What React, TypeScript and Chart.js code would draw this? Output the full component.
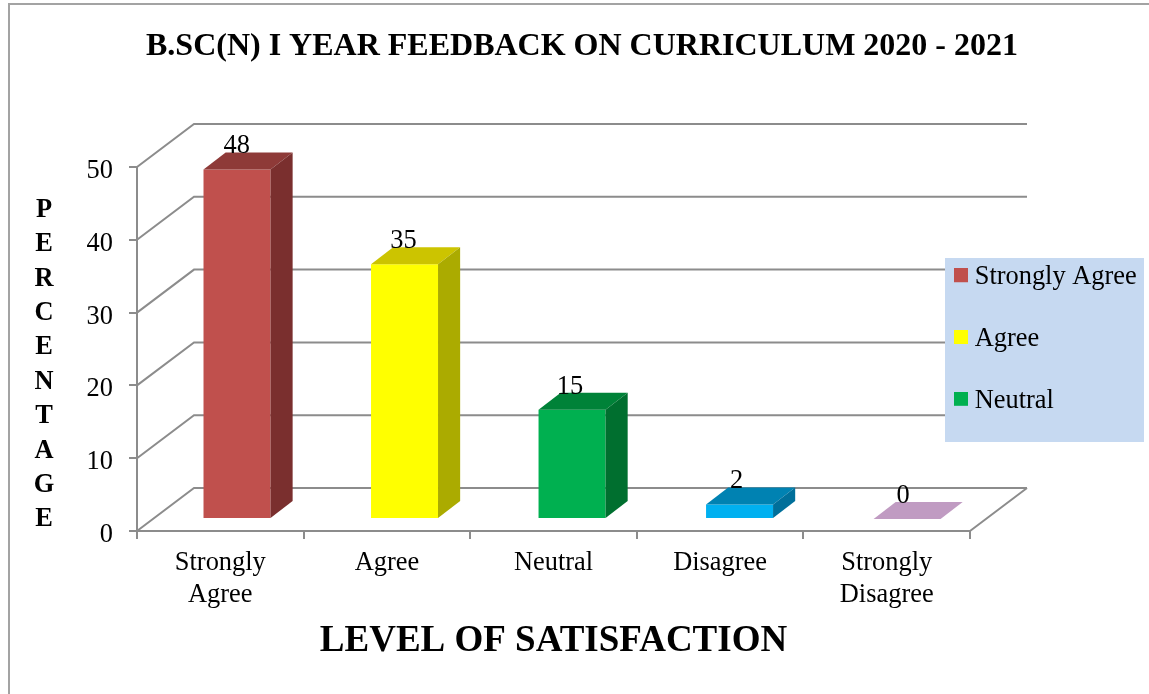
import React, { useEffect, useRef } from "react";
import { Chart, registerables } from "chart.js";

Chart.register(...registerables);

const categories = [["Strongly", "Agree"], ["Agree"], ["Neutral"], ["Disagree"], ["Strongly", "Disagree"]];
const percentages = [48, 35, 15, 2, 0];
const frontColors = ["#C0504D", "#FFFF00", "#00B050", "#00B0F0", "#C09BC2"];
const topColors = ["#8E3A38", "#CCC400", "#008238", "#0082B2", "#C09BC2"];
const sideColors = ["#7A2F2E", "#ABAB00", "#006F2F", "#006F9A", "#C09BC2"];
const legendNames = ["Strongly Agree", "Agree", "Neutral"];
const yTitleLetters = ["P", "E", "R", "C", "E", "N", "T", "A", "G", "E"];
const yTicks = [0, 10, 20, 30, 40, 50];

const SERIF = "'Liberation Serif', 'Times New Roman', serif";
const BODY = 26.4;
const GRID = "#8C8C8C";

function swatch(color: string) {
  const c = document.createElement("canvas");
  c.width = 14;
  c.height = 18;
  const g = c.getContext("2d")!;
  g.fillStyle = color;
  g.fillRect(0, 0, 14, 14);
  return c;
}

const scene = {
  id: "scene",
  afterLayout(chart: any) {
    const l = chart.legend;
    const pad = 35.4;
    l.left = 960.5 - pad;
    l.right = 1149;
    l.top = 264 - pad;
    l.bottom = 694;
  },
  beforeDraw(chart: any) {
    const { ctx, scales } = chart;
    const { x, y } = scales;
    ctx.save();
    ctx.strokeStyle = "#A3A3A3";
    ctx.lineWidth = 2;
    ctx.beginPath();
    ctx.moveTo(9, 694);
    ctx.lineTo(9, 4);
    ctx.lineTo(1149, 4);
    ctx.stroke();

    ctx.strokeStyle = GRID;
    ctx.lineWidth = 2;
    const dx = 57;
    const dy = -43;
    ctx.beginPath();
    yTicks.forEach((t) => {
      const py = y.getPixelForValue(t);
      ctx.moveTo(x.left, py);
      ctx.lineTo(x.left + dx, py + dy);
      ctx.lineTo(x.right + dx, py + dy);
    });
    const py0 = y.getPixelForValue(0);
    ctx.moveTo(x.right, py0);
    ctx.lineTo(x.right + dx, py0 + dy);
    ctx.stroke();

    ctx.fillStyle = "#C6D9F1";
    ctx.fillRect(945, 258, 199, 184);
    ctx.restore();
  },
  beforeDatasetDraw(chart: any) {
    const { ctx } = chart;
    ctx.save();
    ctx.transform(1.0055, 0, 0, 1, 15.5, -12);
  },
  afterDatasetDraw(chart: any) {
    const { ctx } = chart;
    const bars = chart.getDatasetMeta(0).data;
    const ddx = 22;
    const ddy = -17;
    bars.forEach((b: any, i: number) => {
      const l = b.x - b.width / 2;
      const r = b.x + b.width / 2;
      ctx.fillStyle = topColors[i];
      ctx.beginPath();
      ctx.moveTo(l, b.y);
      ctx.lineTo(r, b.y);
      ctx.lineTo(r + ddx, b.y + ddy);
      ctx.lineTo(l + ddx, b.y + ddy);
      ctx.closePath();
      ctx.fill();
      if (b.base - b.y > 0.5) {
        ctx.fillStyle = sideColors[i];
        ctx.beginPath();
        ctx.moveTo(r, b.y);
        ctx.lineTo(r + ddx, b.y + ddy);
        ctx.lineTo(r + ddx, b.base + ddy);
        ctx.lineTo(r, b.base);
        ctx.closePath();
        ctx.fill();
      }
    });
    ctx.restore();
    ctx.save();
    ctx.fillStyle = "#000";
    ctx.font = `${BODY}px ${SERIF}`;
    ctx.textAlign = "center";
    ctx.textBaseline = "middle";
    bars.forEach((b: any, i: number) => {
      ctx.fillText(String(percentages[i]), b.x + 16.5, b.y - 35);
    });
    ctx.restore();
  },
  afterDraw(chart: any) {
    const { ctx } = chart;
    ctx.save();
    ctx.fillStyle = "#000";
    ctx.font = `bold ${BODY}px ${SERIF}`;
    ctx.textAlign = "center";
    ctx.textBaseline = "middle";
    yTitleLetters.forEach((ch, i) => {
      ctx.fillText(ch, 44, 210 + i * 34.4);
    });
    ctx.restore();
  },
};

export default function App() {
  const ref = useRef<HTMLCanvasElement>(null);
  useEffect(() => {
    const chart = new Chart(ref.current!, {
      type: "bar",
      data: {
        labels: categories as any,
        datasets: [
          {
            label: "Percentage",
            data: percentages,
            backgroundColor: frontColors,
            borderWidth: 0,
            barPercentage: 0.4,
            categoryPercentage: 1,
            clip: false,
            xAxisID: "x",
            yAxisID: "y",
          } as any,
        ],
      },
      options: {
        responsive: false,
        animation: false,
        events: [],
        layout: { autoPadding: false, padding: { left: 15, right: 0, top: 0, bottom: 0 } },
        plugins: {
          tooltip: { enabled: false },
          title: {
            display: true,
            text: "B.SC(N) I YEAR FEEDBACK ON CURRICULUM 2020 - 2021",
            color: "#000",
            font: { family: SERIF, size: 32, weight: "bold" },
            padding: { top: 28, bottom: 100.6 },
          },
          legend: {
            display: true,
            position: "chartArea",
            align: "start",
            labels: {
              color: "#000",
              font: { family: SERIF, size: BODY },
              padding: 35.4,
              usePointStyle: true,
              pointStyleWidth: 1,
              boxHeight: 14,
              generateLabels: () =>
                legendNames.map((text, i) => ({
                  text,
                  fillStyle: frontColors[i],
                  strokeStyle: "rgba(0,0,0,0)",
                  lineWidth: 0,
                  hidden: false,
                  pointStyle: swatch(frontColors[i]),
                  datasetIndex: 0,
                  index: i,
                })),
            },
          } as any,
        },
        scales: {
          x: {
            type: "category",
            offset: true,
            afterFit: (s: any) => {
              s.height = 163;
            },
            border: { color: GRID, width: 2 },
            grid: { display: true, drawOnChartArea: false, drawTicks: true, tickLength: 8, color: GRID, lineWidth: 2, offset: true },
            ticks: {
              color: "#000",
              font: { family: SERIF, size: BODY },
              maxRotation: 0,
              minRotation: 0,
              autoSkip: false,
              padding: 8.5,
            },
            title: {
              display: true,
              text: "LEVEL OF SATISFACTION",
              color: "#000",
              font: { family: SERIF, size: 37, weight: "bold" },
              padding: { top: 0, bottom: 30 },
            },
          },
          y: {
            type: "linear",
            position: "left",
            min: 0,
            max: 50,
            afterFit: (s: any) => {
              s.width = 122;
            },
            border: { color: GRID, width: 2 },
            grid: { display: true, drawOnChartArea: false, drawTicks: true, tickLength: 8, color: GRID, lineWidth: 2 },
            ticks: {
              color: "#000",
              font: { family: SERIF, size: BODY },
              stepSize: 10,
              padding: 16,
              labelOffset: 4,
            },
          },
          spacer: {
            type: "linear",
            position: "right",
            display: true,
            min: 0,
            max: 1,
            afterFit: (s: any) => {
              s.width = 179;
            },
            border: { display: false },
            grid: { display: false },
            ticks: { display: false },
          },
        },
      } as any,
      plugins: [scene],
    });
    return () => chart.destroy();
  }, []);
  return (
    <div style={{ position: "absolute", left: 0, top: 0, width: 1149, height: 694 }}>
      <canvas ref={ref} width={1149} height={694} style={{ display: "block" }} />
    </div>
  );
}
